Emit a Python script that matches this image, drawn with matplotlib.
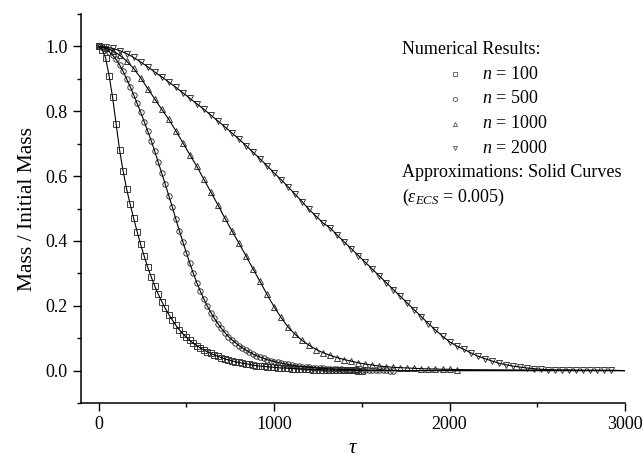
import matplotlib
matplotlib.use('agg')
import matplotlib.pyplot as plt
from matplotlib.ticker import MultipleLocator

plt.rcParams['font.family'] = ['Liberation Serif', 'DejaVu Serif']
plt.rcParams['mathtext.fontset'] = 'custom'
plt.rcParams['mathtext.rm'] = 'Liberation Serif'
plt.rcParams['mathtext.it'] = 'Liberation Serif:italic'

# numerical results (tau on a uniform grid)
tau_100 = list(range(0, 1501, 20))
mass_100 = [1.0, 0.99, 0.965, 0.91, 0.843, 0.761, 0.68, 0.615, 0.56, 0.513,
            0.47, 0.428, 0.389, 0.353, 0.319, 0.289, 0.261, 0.236, 0.213, 0.192,
            0.173, 0.156, 0.14, 0.126, 0.114, 0.103, 0.093, 0.084, 0.077, 0.070,
            0.064, 0.058, 0.053, 0.048, 0.044, 0.040, 0.036, 0.033, 0.030, 0.027,
            0.025, 0.023, 0.021, 0.019, 0.017, 0.015, 0.014, 0.013, 0.012, 0.011,
            0.010, 0.009, 0.008, 0.008, 0.007, 0.006, 0.006, 0.005, 0.005, 0.004,
            0.004, 0.003, 0.003, 0.003, 0.002, 0.002, 0.002, 0.002, 0.001, 0.001,
            0.001, 0.001, 0.001, 0.001, 0.0, 0.0]

tau_500 = list(range(0, 1681, 20))
mass_500 = [1.0, 0.998, 0.993, 0.984, 0.973, 0.96, 0.943, 0.923, 0.9, 0.876,
            0.851, 0.824, 0.797, 0.768, 0.739, 0.709, 0.677, 0.643, 0.609, 0.575,
            0.54, 0.505, 0.468, 0.432, 0.398, 0.364, 0.331, 0.3, 0.271, 0.245,
            0.221, 0.199, 0.179, 0.161, 0.145, 0.13, 0.117, 0.105, 0.095, 0.086,
            0.077, 0.07, 0.063, 0.057, 0.051, 0.046, 0.042, 0.038, 0.034, 0.031,
            0.028, 0.025, 0.023, 0.021, 0.019, 0.017, 0.015, 0.014, 0.012, 0.011,
            0.010, 0.009, 0.008, 0.007, 0.007, 0.006, 0.005, 0.005, 0.004, 0.004,
            0.003, 0.003, 0.003, 0.002, 0.002, 0.002, 0.002, 0.001, 0.001, 0.001,
            0.001, 0.001, 0.001, 0.0, 0.0]

tau_1000 = list(range(0, 2041, 40))
mass_1000 = [1.0, 0.996, 0.987, 0.973, 0.955, 0.932, 0.903, 0.87, 0.838, 0.806,
             0.775, 0.74, 0.703, 0.666, 0.63, 0.59, 0.551, 0.511, 0.47, 0.431,
             0.393, 0.354, 0.314, 0.275, 0.235, 0.197, 0.164, 0.134, 0.112, 0.093,
             0.078, 0.065, 0.055, 0.047, 0.04, 0.034, 0.029, 0.024, 0.02, 0.017,
             0.014, 0.012, 0.010, 0.009, 0.008, 0.007, 0.006, 0.005, 0.005, 0.004,
             0.004, 0.003]

tau_2000 = list(range(0, 2921, 40))
mass_2000 = [1.0, 0.998, 0.994, 0.987, 0.978, 0.966, 0.952, 0.937, 0.921, 0.906,
             0.89, 0.874, 0.857, 0.84, 0.823, 0.806, 0.788, 0.77, 0.752, 0.733,
             0.714, 0.694, 0.674, 0.653, 0.632, 0.61, 0.589, 0.567, 0.544, 0.521,
             0.497, 0.476, 0.455, 0.44, 0.418, 0.397, 0.376, 0.355, 0.334, 0.313,
             0.292, 0.271, 0.25, 0.229, 0.208, 0.187, 0.166, 0.145, 0.125, 0.106,
             0.089, 0.076, 0.066, 0.055, 0.045, 0.037, 0.030, 0.023, 0.018, 0.014,
             0.011, 0.008, 0.006, 0.004, 0.003, 0.002, 0.002, 0.002, 0.001, 0.001,
             0.001, 0.001, 0.001, 0.001]

# the approximation curves run on to the end of the axis
approx_end_tau = 3000
approx_end_mass = 0.0

series = [
    (tau_100, mass_100, 's', '100'),
    (tau_500, mass_500, 'o', '500'),
    (tau_1000, mass_1000, '^', '1000'),
    (tau_2000, mass_2000, 'v', '2000'),
]

fig = plt.figure(figsize=(6.44, 4.59), dpi=100)
ax = fig.add_axes([0.1258, 0.1220, 0.8447, 0.8475])

for tau, mass, mk, lab in series:
    ax.plot(tau, mass, linestyle='none', marker=mk, ms=3.9, mfc='none',
            mec='#2e2e2e', mew=0.65, zorder=2)
    ax.plot(tau + [approx_end_tau], mass + [approx_end_mass], color='black',
            lw=0.8, zorder=3)

ax.set_xlim(-100, 3000)
ax.set_ylim(-0.1, 1.1)
ax.xaxis.set_major_locator(MultipleLocator(1000))
ax.xaxis.set_minor_locator(MultipleLocator(500))
ax.yaxis.set_major_locator(MultipleLocator(0.2))
ax.yaxis.set_minor_locator(MultipleLocator(0.1))
ax.yaxis.set_major_formatter(plt.FormatStrFormatter('%.1f'))
for side in ['top', 'right']:
    ax.spines[side].set_visible(False)
for side in ['left', 'bottom']:
    ax.spines[side].set_linewidth(1.1)
ax.tick_params(which='major', direction='out', length=5.5, width=1.0,
               labelsize=13, pad=4)
ax.tick_params(which='minor', direction='out', length=3, width=1.0)
ax.set_xlabel(r'$\tau$', fontsize=15, labelpad=4)
ax.set_ylabel('Mass / Initial Mass', fontsize=15.5, labelpad=6)

# text legend
fs = 13
x_txt, x_mk, x_lab = 0.590, 0.6875, 0.7366
y0, dy = 0.9075, 0.063
ax.text(x_txt, y0, 'Numerical Results:', transform=ax.transAxes, fontsize=fs, va='center')
for i, (tau, mass, mk, lab) in enumerate(series):
    yy = y0 - dy * (i + 1)
    ax.plot([x_mk], [yy], transform=ax.transAxes, marker=mk, ms=3, mfc='none',
            mec='#555555', mew=0.6, linestyle='none')
    ax.text(x_lab, yy, r'$n$ = ' + lab, transform=ax.transAxes, fontsize=fs, va='center')
ax.text(x_txt, y0 - dy * 5, 'Approximations: Solid Curves',
        transform=ax.transAxes, fontsize=fs, va='center')
ax.text(x_txt, y0 - dy * 6, r'($\varepsilon_{ECS}$ = 0.005)',
        transform=ax.transAxes, fontsize=fs, va='center')

fig.savefig('out.png', dpi=100)
